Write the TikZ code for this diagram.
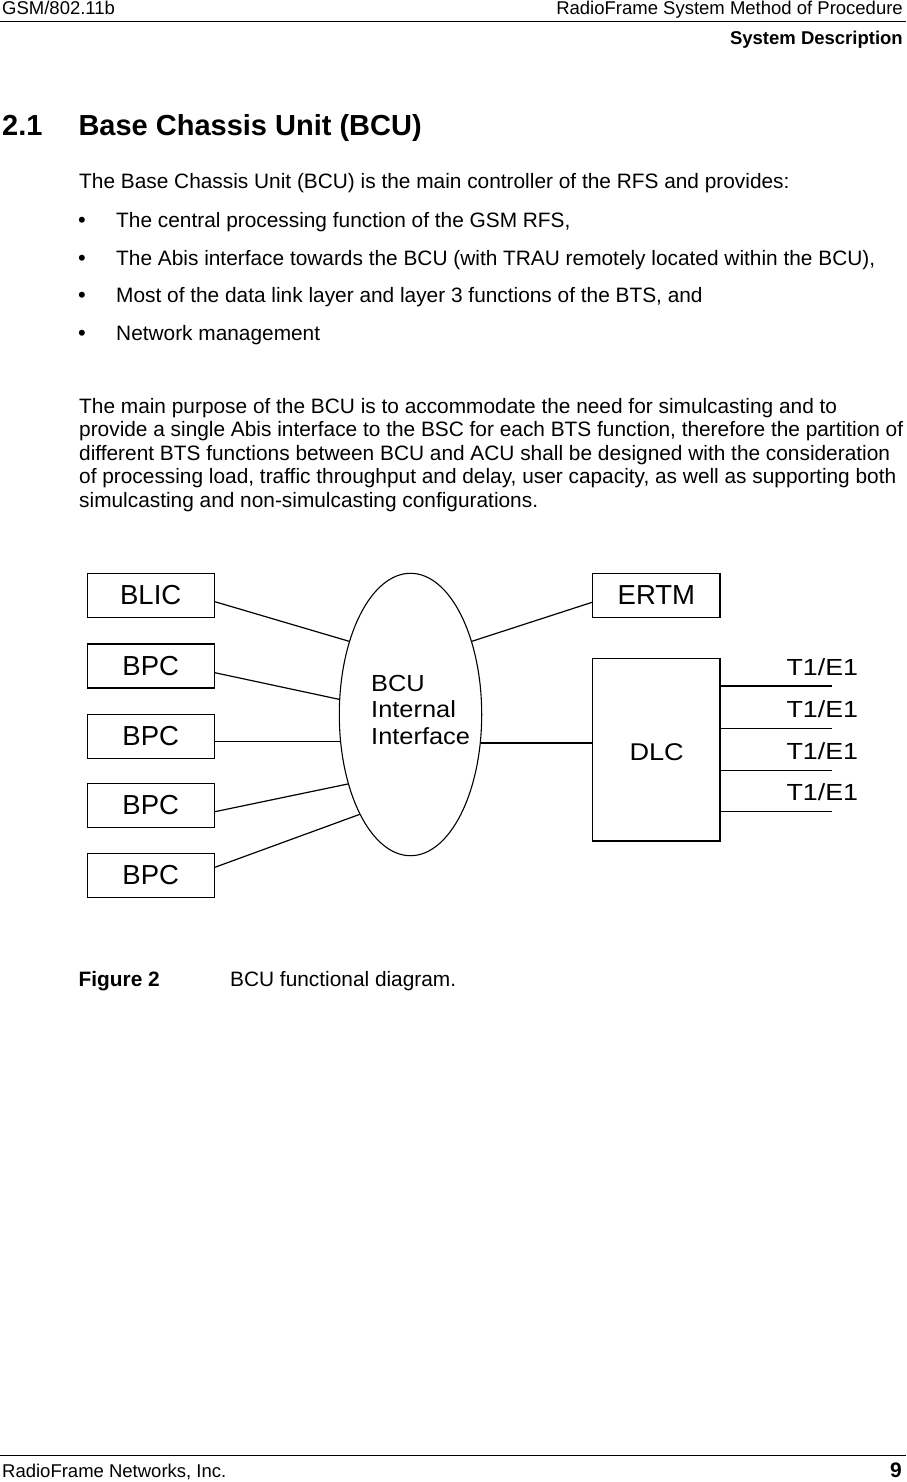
\documentclass[tikz,border=0pt]{standalone}
\usepackage{fontspec}
\setmainfont{Liberation Sans}
\usetikzlibrary{shapes.geometric}
\newcommand{\fs}[1]{\fontsize{#1}{#1}\selectfont}
\begin{document}
\begin{tikzpicture}[x=1pt,y=-1pt,
  txt/.style={inner sep=0pt, anchor=base west, font=\fs{20.85}},
  bul/.style={inner sep=0pt, anchor=base west, font=\fs{22}},
  hdr/.style={inner sep=0pt, font=\fs{18.5}},
  rule/.style={line width=1pt},
  box/.style={draw, line width=1.3pt, minimum width=127pt, minimum height=44pt, inner sep=0pt, font=\fs{27.5}},
  conn/.style={line width=1.2pt},
  lbl/.style={inner sep=0pt, anchor=base east, font=\fs{23.3}},
]
\fill[white] (0,0) rectangle (906,1482);
\useasboundingbox (0,0) rectangle (906,1482);

% header
\node[hdr, anchor=base west] (h1) at (2,15) {GSM/802.11b};
\node[hdr, anchor=base east] (h2) at (903,15) {RadioFrame System Method of Procedure};
\draw[rule] (0,21.3) -- (906,21.3);
\node[hdr, anchor=base east, font=\fs{18.5}\bfseries] (h3) at (903,45) {System Description};

% heading
\node[inner sep=0pt, anchor=base west, font=\fs{29}\bfseries] (secnum) at (2,136) {2.1};
\node[inner sep=0pt, anchor=base west, font=\fs{29}\bfseries] (sectitle) at (78.3,136) {Base Chassis Unit (BCU)};

% body
\node[txt] (p0) at (79,189) {The Base Chassis Unit (BCU) is the main controller of the RFS and provides:};
\node[bul] (b1) at (78,227) {•};
\node[txt] (l1) at (116,227) {The central processing function of the GSM RFS,};
\node[bul] (b2) at (78,265) {•};
\node[txt] (l2) at (116,265) {The Abis interface towards the BCU (with TRAU remotely located within the BCU),};
\node[bul] (b3) at (78,302.5) {•};
\node[txt] (l3) at (116,302.5) {Most of the data link layer and layer 3 functions of the BTS, and};
\node[bul] (b4) at (78,340) {•};
\node[txt] (l4) at (116,340) {Network management};

\node[txt] (q1) at (79,413) {The main purpose of the BCU is to accommodate the need for simulcasting and to};
\node[txt] (q2) at (79,436.5) {provide a single Abis interface to the BSC for each BTS function, therefore the partition of};
\node[txt] (q3) at (79,460) {different BTS functions between BCU and ACU shall be designed with the consideration};
\node[txt] (q4) at (79,483.5) {of processing load, traffic throughput and delay, user capacity, as well as supporting both};
\node[txt] (q5) at (79,507) {simulcasting and non-simulcasting configurations.};

% diagram
\node[box] (blic) at (150.7,595.3) {BLIC};
\node[box] (bpc1) at (150.7,666) {BPC};
\node[box] (bpc2) at (150.7,736.3) {BPC};
\node[box] (bpc3) at (150.7,805.3) {BPC};
\node[box] (bpc4) at (150.7,875.5) {BPC};
\node[box, minimum width=127.3pt] (ertm) at (656.4,595.3) {ERTM};
\node[draw, line width=1.3pt, minimum width=127.3pt, minimum height=182.7pt, inner sep=0pt] (dlc) at (656.4,749.7) {};
\node[inner sep=0pt, font=\fs{24.2}] (dlct) at (656.7,751.7) {\scalebox{1.12}[1]{DLC}};

\node[ellipse, draw, line width=1.1pt, minimum width=142.4pt, minimum height=282.4pt, inner sep=0pt] (bcu) at (410.5,714.5) {};
\node[inner sep=0pt, anchor=base west, font=\fs{23.3}] (bcut1) at (371,691) {\scalebox{1.09}[1]{BCU}};
\node[inner sep=0pt, anchor=base west, font=\fs{23.3}] (bcut2) at (371,717.3) {\scalebox{1.09}[1]{Internal}};
\node[inner sep=0pt, anchor=base west, font=\fs{23.3}] (bcut3) at (371,744.3) {\scalebox{1.09}[1]{Interface}};

\draw[conn] ([yshift=-6.4pt]blic.east) -- (bcu.130.3);
\draw[conn] ([yshift=-6.7pt]bpc1.east) -- (bcu.168.7);
\draw[conn] (bcu.201.7 -| bpc2.east) -- (bcu.201.7);
\draw[conn] ([yshift=-6.4pt]bpc3.east) -- (bcu.228.5);
\draw[conn] ([yshift=8.2pt]bpc4.east) -- (bcu.243.4);
\draw[conn] (bcu.50.1) -- ([yshift=-7pt]ertm.west);
\draw[conn] (bcu.338.2) -- (bcu.338.2 -| dlc.west);

\coordinate (t1) at (831.7,686);
\coordinate (t2) at (831.7,728.7);
\coordinate (t3) at (831.7,770.7);
\coordinate (t4) at (831.7,811.7);
\draw[conn] (t1 -| dlc.east) -- (t1);
\draw[conn] (t2 -| dlc.east) -- (t2);
\draw[conn] (t3 -| dlc.east) -- (t3);
\draw[conn] (t4 -| dlc.east) -- (t4);
\node[lbl] (e1) at (858.3,675) {\scalebox{1.15}[1]{T1/E1}};
\node[lbl] (e2) at (858.3,717.3) {\scalebox{1.15}[1]{T1/E1}};
\node[lbl] (e3) at (858.3,759.3) {\scalebox{1.15}[1]{T1/E1}};
\node[lbl] (e4) at (858.3,800.7) {\scalebox{1.15}[1]{T1/E1}};

% caption
\node[txt, font=\fs{20.85}\bfseries] (fig) at (78.5,986.7) {Figure 2};
\node[txt] (cap) at (230,986.7) {BCU functional diagram.};

% footer
\draw[rule] (0,1455) -- (906,1455);
\node[hdr, anchor=base west] (f1) at (2,1477) {RadioFrame Networks, Inc.};
\node[hdr, anchor=base east, font=\fs{21}\bfseries] (f2) at (902,1477.5) {9};
\end{tikzpicture}
\end{document}
